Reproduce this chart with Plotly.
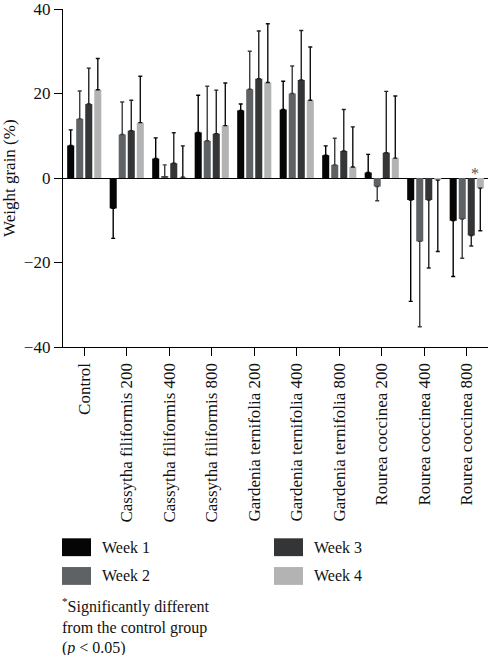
import plotly.graph_objects as go

categories = ["Control", "Cassytha filiformis 200", "Cassytha filiformis 400",
              "Cassytha filiformis 800", "Gardenia ternifolia 200", "Gardenia ternifolia 400",
              "Gardenia ternifolia 800", "Rourea coccinea 200", "Rourea coccinea 400",
              "Rourea coccinea 800"]
series_names = ["Week 1", "Week 2", "Week 3", "Week 4"]

week1 = [7.7, -7.2, 4.6, 10.8, 16.0, 16.2, 5.4, 1.3, -5.2, -10.1]
week2 = [14.0, 10.3, 0.3, 8.8, 21.0, 20.0, 3.1, -2.0, -15.0, -9.7]
week3 = [17.5, 11.2, 3.5, 10.5, 23.5, 23.2, 6.4, 6.0, -5.2, -13.6]
week4 = [20.9, 13.1, 0.2, 12.4, 22.6, 18.4, 2.6, 4.7, -0.5, -2.4]

sd1 = [3.7, 7.1, 4.9, 8.8, 1.5, 6.7, 2.2, 4.3, 24.0, 13.2]
sd2 = [6.6, 7.7, 2.8, 12.9, 9.0, 6.5, 6.3, 3.4, 20.2, 9.3]
sd3 = [8.5, 7.2, 7.2, 10.3, 11.3, 11.7, 9.8, 14.5, 16.1, 2.5]
sd4 = [7.4, 11.0, 7.4, 10.1, 13.9, 12.6, 9.5, 14.7, 16.9, 10.1]

y_ticks = [-40, -20, 0, 20, 40]
y_tick_labels = ["−40", "−20", "0", "20", "40"]

values = [week1, week2, week3, week4]
sds = [sd1, sd2, sd3, sd4]
colors = ["#050505", "#5f6265", "#333537", "#b3b3b3"]
err_colors = ["#000000", "#3c3c3c", "#222222", "#111111"]

FONT = "Liberation Serif, Times New Roman, serif"

fig = go.Figure()
for name, vals, sd, c, ec in zip(series_names, values, sds, colors, err_colors):
    plus = [s if v >= 0 else 0 for v, s in zip(vals, sd)]
    minus = [s if v < 0 else 0 for v, s in zip(vals, sd)]
    fig.add_trace(go.Bar(
        x=categories, y=vals, name=name, marker_color=c, marker_line_width=0,
        showlegend=False,
        error_y=dict(type="data", symmetric=False, array=plus, arrayminus=minus,
                     color=ec, thickness=1.4, width=2),
    ))

# pixel -> paper helpers (plot area geometry)
L, R, T, B = 63, 488, 6, 347
def px_x(x):
    return (x - L) / (R - L)
def px_y(y):
    return (B - y) / (B - T)

shapes = []
annotations = []
legend_pos = [(62, 540), (62, 569), (274, 540), (274, 569)]
for name, c, (lx, ly) in zip(series_names, colors, legend_pos):
    shapes.append(dict(type="rect", xref="paper", yref="paper",
                       x0=px_x(lx), x1=px_x(lx + 29), y0=px_y(ly), y1=px_y(ly + 18),
                       fillcolor=c, line_width=0))
    annotations.append(dict(xref="paper", yref="paper", x=px_x(lx + 38), y=px_y(ly + 9),
                            xanchor="left", yanchor="middle", text=name, showarrow=False,
                            font=dict(family=FONT, size=16, color="#111")))

annotations.append(dict(xref="paper", yref="paper", x=px_x(60), y=px_y(595),
                        xanchor="left", yanchor="top", align="left", showarrow=False,
                        text="<sup>*</sup>Significantly different<br>from the control group<br>(<i>p</i> < 0.05)",
                        font=dict(family=FONT, size=16, color="#111")))

annotations.append(dict(xref="paper", yref="paper", x=px_x(9), y=0.5,
                        xanchor="center", yanchor="middle", textangle=-90,
                        text="Weight grain (%)", showarrow=False,
                        font=dict(family=FONT, size=17, color="#111")))

# significance marker
annotations.append(dict(x=categories[-1], y=0, xshift=8, yshift=-6, yanchor="bottom",
                        text="*", showarrow=False,
                        font=dict(family=FONT, size=16, color="#555")))

fig.update_layout(
    width=488, height=655,
    margin=dict(l=L, r=488 - R, t=T, b=655 - B, pad=0),
    paper_bgcolor="white", plot_bgcolor="white",
    barmode="group", bargap=0.15, bargroupgap=0.22,
    font=dict(family=FONT, size=16, color="#111"),
    shapes=shapes, annotations=annotations,
    showlegend=False,
)
fig.update_xaxes(
    range=[-0.5, 9.5], showline=True, linecolor="black", linewidth=1.3,
    ticks="outside", ticklen=8, tickwidth=1.3, tickcolor="black",
    tickangle=-90, tickfont=dict(family=FONT, size=17), showgrid=False,
    ticklabeloverflow="allow",
)
fig.update_yaxes(
    range=[-40, 40], tickvals=y_ticks, ticktext=y_tick_labels,
    showline=True, linecolor="black", linewidth=1.3,
    ticks="outside", ticklen=8, tickwidth=1.3, tickcolor="black",
    tickfont=dict(family=FONT, size=17), showgrid=False,
    zeroline=True, zerolinecolor="black", zerolinewidth=1.3,
    ticklabeloverflow="allow",
)

fig.write_html(
    "out.html",
    config={"displayModeBar": False},
    post_script="document.body.style.margin='0';document.body.style.padding='0';",
)
